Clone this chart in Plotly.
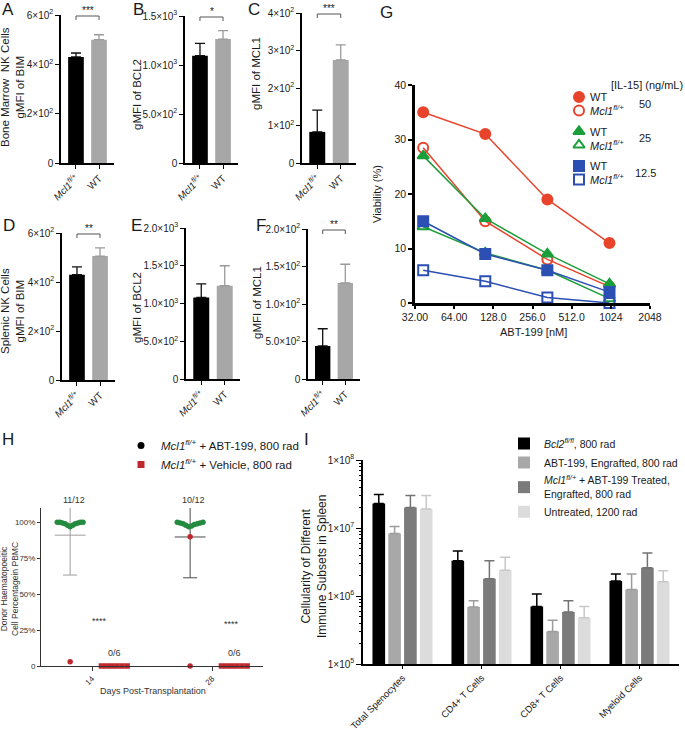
import math
import statistics
import plotly.graph_objects as go

W, H = 685, 730
FONT = "Liberation Sans, Arial, Helvetica, sans-serif"
INK = "#1a1a1a"

# ---------------------------------------------------------------- data
GENOTYPES = ["<i>Mcl1<sup>fl/+</sup></i>", "WT"]

A_BM_BIM = [430, 500]
A_BM_BIM_SEM = [16, 20]
B_BM_BCL2 = [1095, 1265]
B_BM_BCL2_SEM = [125, 85]
C_BM_MCL1 = [83, 275]
C_BM_MCL1_SEM = [58, 40]
D_SP_BIM = [430, 506]
D_SP_BIM_SEM = [32, 33]
E_SP_BCL2 = [1080, 1235]
E_SP_BCL2_SEM = [180, 265]
F_SP_MCL1 = [44, 128]
F_SP_MCL1_SEM = [23, 25]

TICKS_BIM = [0, 200, 400, 600]
TICKTEXT_BIM = ["0", "2×10<sup>2</sup>", "4×10<sup>2</sup>", "6×10<sup>2</sup>"]
TICKS_BCL2_BM = [0, 500, 1000, 1500]
TICKTEXT_BCL2_BM = ["0", "5.0×10<sup>2</sup>", "1.0×10<sup>3</sup>", "1.5×10<sup>3</sup>"]
TICKS_MCL1_BM = [0, 100, 200, 300, 400]
TICKTEXT_MCL1_BM = ["0", "1×10<sup>2</sup>", "2×10<sup>2</sup>", "3×10<sup>2</sup>", "4×10<sup>2</sup>"]
TICKS_BCL2_SP = [0, 500, 1000, 1500, 2000]
TICKTEXT_BCL2_SP = ["0", "5.0×10<sup>2</sup>", "1.0×10<sup>3</sup>", "1.5×10<sup>3</sup>", "2.0×10<sup>3</sup>"]
TICKS_MCL1_SP = [0, 50, 100, 150, 200]
TICKTEXT_MCL1_SP = ["0", "5.0×10<sup>2</sup>", "1.0×10<sup>2</sup>", "1.5×10<sup>2</sup>", "2.0×10<sup>2</sup>"]

G_DOSE_NM = [37, 111, 333, 1000]
G_WT_50 = [35, 31, 19, 11]
G_MCL1_50 = [28.5, 15, 8, 3]
G_WT_25 = [27, 15.5, 9, 3.5]
G_MCL1_25 = [14, 9.2, 6, 0.8]
G_WT_12 = [15, 9, 6, 2]
G_MCL1_12 = [6, 4, 1, 0]
G_IL15 = ["50", "25", "12.5"]
G_XTICKS = [32, 64, 128, 256, 512, 1024, 2048]
G_XTICKTEXT = ["32.00", "64.00", "128.0", "256.0", "512.0", "1024", "2048"]
G_YTICKS = [0, 10, 20, 30, 40]

H_DAYS = [14, 28]
H_ABT_ENGRAFTED_D14 = [100, 100, 99.5, 99, 98, 97, 98, 99, 99.5, 100, 100]
H_ABT_OTHER_D14 = [3]
H_ABT_ENGRAFTED_D28 = [100, 99.5, 99, 98, 97, 97.5, 98.5, 99, 99.5, 100]
H_ABT_OTHER_D28 = [90, 0]
H_VEHICLE_D14 = [0, 0, 0, 0, 0, 0]
H_VEHICLE_D28 = [0, 0, 0, 0, 0, 0]
H_ENGRAFT_LABELS = ["11/12", "10/12"]
H_VEHICLE_LABELS = ["0/6", "0/6"]
H_SIGNIF = ["****", "****"]
H_YTICKS = [0, 25, 50, 75, 100]
H_YTICKTEXT = ["0", "25%", "50%", "75%", "100%"]

I_CATEGORIES = ["Total Spenocytes", "CD4+ T Cells", "CD8+ T Cells", "Myeloid Cells"]
I_GROUPS = [
    "<i>Bcl2<sup>fl/fl</sup></i>, 800 rad",
    "ABT-199, Engrafted, 800 rad",
    "<i>Mcl1<sup>fl/+</sup></i> + ABT-199 Treated,<br>Engrafted, 800 rad",
    "Untreated, 1200 rad",
]
I_BCL2 = [2.3e7, 3.3e6, 7.0e5, 1.66e6]
I_BCL2_SEM = [8.0e6, 1.3e6, 3.7e5, 4.4e5]
I_ABT = [8.3e6, 6.9e5, 3.0e5, 1.25e6]
I_ABT_SEM = [2.2e6, 1.6e5, 1.4e5, 8.5e5]
I_MCL1_ABT = [2.0e7, 1.8e6, 5.8e5, 2.6e6]
I_MCL1_ABT_SEM = [1.0e7, 1.5e6, 2.7e5, 1.7e6]
I_UNTREATED = [1.9e7, 2.4e6, 4.8e5, 1.62e6]
I_UNTREATED_SEM = [1.1e7, 1.3e6, 2.2e5, 7.3e5]
I_YTICKS = [1e5, 1e6, 1e7, 1e8]
I_YTICKTEXT = ["1×10<sup>5</sup>", "1×10<sup>6</sup>", "1×10<sup>7</sup>", "1×10<sup>8</sup>"]

# ---------------------------------------------------------------- helpers
fig = go.Figure()
annotations, shapes = [], []
layout = {}


def xd(a, b):
    return [a / W, b / W]


def yd(top, bottom):
    return [1 - bottom / H, 1 - top / H]


def px_ann(x, y, text, size, angle=0, xanchor="center", yanchor="middle", color=INK):
    annotations.append(dict(xref="paper", yref="paper", x=x / W, y=1 - y / H, text=text,
                            textangle=angle, showarrow=False, xanchor=xanchor, yanchor=yanchor,
                            font=dict(size=size, family=FONT, color=color)))


def axis_style(**kw):
    base = dict(showline=True, linecolor="black", linewidth=1.5, ticks="outside", ticklen=4,
                tickwidth=1.2, tickcolor="black", showgrid=False, zeroline=False, automargin=False,
                tickfont=dict(size=10, family=FONT, color=INK), fixedrange=True)
    base.update(kw)
    return base


# ---------------------------------------------------------------- panels A-F
BLACK, GREY = "#000000", "#a7a7a7"
bar_panels = [
    dict(n=1, L="A", v=A_BM_BIM, e=A_BM_BIM_SEM, tv=TICKS_BIM, tt=TICKTEXT_BIM, ymax=600,
         xp=(61, 114), yp=(15, 163), title="Bone Marrow  NK Cells<br>gMFI of BIM", txy=(12, 87),
         lxy=(0, 9), stars="***"),
    dict(n=2, L="B", v=B_BM_BCL2, e=B_BM_BCL2_SEM, tv=TICKS_BCL2_BM, tt=TICKTEXT_BCL2_BM, ymax=1500,
         xp=(185, 238), yp=(16, 163), title="gMFI of BCL2", txy=(137, 95), lxy=(131, 9), stars="*"),
    dict(n=3, L="C", v=C_BM_MCL1, e=C_BM_MCL1_SEM, tv=TICKS_MCL1_BM, tt=TICKTEXT_MCL1_BM, ymax=400,
         xp=(302, 356), yp=(13, 163), title="gMFI of MCL1", txy=(256, 73), lxy=(246, 9), stars="***"),
    dict(n=4, L="D", v=D_SP_BIM, e=D_SP_BIM_SEM, tv=TICKS_BIM, tt=TICKTEXT_BIM, ymax=600,
         xp=(62, 115), yp=(233, 380), title="Splenic NK Cells<br>gMFI of BIM", txy=(12, 311),
         lxy=(1, 226), stars="**"),
    dict(n=5, L="E", v=E_SP_BCL2, e=E_SP_BCL2_SEM, tv=TICKS_BCL2_SP, tt=TICKTEXT_BCL2_SP, ymax=2000,
         xp=(186, 240), yp=(228, 379), title="gMFI of BCL2", txy=(137, 308), lxy=(129, 226), stars=None),
    dict(n=6, L="F", v=F_SP_MCL1, e=F_SP_MCL1_SEM, tv=TICKS_MCL1_SP, tt=TICKTEXT_MCL1_SP, ymax=200,
         xp=(308, 360), yp=(229, 379), title="gMFI of MCL1", txy=(257, 303), lxy=(254, 226), stars="**"),
]

for p in bar_panels:
    n = p["n"]
    xa, ya = f"x{n}", f"y{n}"
    for i, (col, ecol) in enumerate([(BLACK, "#111111"), (GREY, "#9a9a9a")]):
        fig.add_trace(go.Bar(
            x=[i], y=[p["v"][i]], width=0.68, offsetgroup="g", xaxis=xa, yaxis=ya,
            marker=dict(color=col, line=dict(width=0)), showlegend=False, hoverinfo="skip",
            error_y=dict(type="data", symmetric=False, array=[p["e"][i]], arrayminus=[0],
                         color=ecol, thickness=1.3, width=5)))
    layout[f"xaxis{n}"] = axis_style(domain=xd(*p["xp"]), range=[-0.65, 1.65], anchor=ya,
                                     tickvals=list(range(len(GENOTYPES))), ticktext=GENOTYPES,
                                     tickangle=-45)
    layout[f"yaxis{n}"] = axis_style(domain=yd(*p["yp"]), range=[0, p["ymax"]], anchor=xa,
                                     tickvals=p["tv"], ticktext=p["tt"])
    px_ann(p["txy"][0], p["txy"][1], p["title"], 11.5, angle=-90)
    px_ann(p["lxy"][0], p["lxy"][1], p["L"], 17, xanchor="left")
    if p["stars"]:
        span = p["yp"][1] - p["yp"][0]
        by = p["ymax"] * (span - 1) / span
        d = p["ymax"] * 4 / span
        lc = dict(color="#555555", width=1)
        shapes.append(dict(type="line", xref=xa, yref=ya, x0=0, x1=1, y0=by, y1=by, line=lc))
        shapes.append(dict(type="line", xref=xa, yref=ya, x0=0, x1=0, y0=by, y1=by - d, line=lc))
        shapes.append(dict(type="line", xref=xa, yref=ya, x0=1, x1=1, y0=by, y1=by - d, line=lc))
        annotations.append(dict(xref=xa, yref=ya, x=0.5, y=by, text=p["stars"], showarrow=False,
                                yanchor="bottom", yshift=-2, font=dict(size=10, family=FONT, color=INK)))

# ---------------------------------------------------------------- panel G
RED, GREEN, BLUE = "#e8442c", "#1a9e3a", "#2b4fb3"
g_series = [
    (G_WT_50, RED, "circle", "WT"),
    (G_MCL1_50, RED, "circle-open", "<i>Mcl1<sup>fl/+</sup></i>"),
    (G_WT_25, GREEN, "triangle-up", "WT"),
    (G_MCL1_25, GREEN, "triangle-up-open", "<i>Mcl1<sup>fl/+</sup></i>"),
    (G_WT_12, BLUE, "square", "WT"),
    (G_MCL1_12, BLUE, "square-open", "<i>Mcl1<sup>fl/+</sup></i>"),
]
for vals, col, sym, name in g_series:
    fig.add_trace(go.Scatter(
        x=G_DOSE_NM, y=vals, mode="lines+markers", xaxis="x7", yaxis="y7", cliponaxis=False,
        line=dict(color=col, width=1.5), showlegend=False, hoverinfo="skip",
        marker=dict(symbol=sym, size=10, color=col, line=dict(color=col, width=2))))
layout["xaxis7"] = axis_style(domain=xd(415, 650), type="log", anchor="y7",
                              range=[math.log10(G_XTICKS[0]), math.log10(G_XTICKS[-1])],
                              tickvals=G_XTICKS, ticktext=G_XTICKTEXT, linewidth=2.5, tickwidth=2,
                              ticklen=3, tickfont=dict(size=10.5, family=FONT, color=INK))
layout["yaxis7"] = axis_style(domain=yd(85, 303), range=[0, 40], anchor="x7", tickvals=G_YTICKS,
                              linewidth=2.5, tickwidth=2, ticklen=4,
                              tickfont=dict(size=10.5, family=FONT, color=INK))
px_ann(377, 194, "Viability (%)", 11, angle=-90)
px_ann(533, 332, "ABT-199 [nM]", 11)
px_ann(378, 12, "G", 17, xanchor="left")

# legend of G (manual, pixel overlay)
layout["xaxis10"] = dict(domain=[0, 1], range=[0, W], visible=False, fixedrange=True, anchor="y10",
                         automargin=False)
layout["yaxis10"] = dict(domain=[0, 1], range=[H, 0], visible=False, fixedrange=True, anchor="x10",
                         automargin=False)
for k, (vals, col, sym, name) in enumerate(g_series):
    grp, row = divmod(k, 2)
    ry = 97 + grp * 34.5 + row * 13.5
    fig.add_trace(go.Scatter(x=[579], y=[ry], mode="markers", xaxis="x10", yaxis="y10",
                             showlegend=False, hoverinfo="skip", cliponaxis=False,
                             marker=dict(symbol=sym, size=10, color=col, line=dict(color=col, width=2))))
    px_ann(588, ry, name, 11, xanchor="left")
    if row == 0:
        px_ann(645, ry + 6.75, G_IL15[grp], 11)
px_ann(647, 85, "[IL-15] (ng/mL)", 11)

# ---------------------------------------------------------------- panel H
HGREEN, HRED = "#238b3f", "#c0282d"
ABT_OFF, VEH_OFF = -2.55, 2.6
H_ERR_COLORS = ["#9e9e9e", "#4a4a4a"]
H_STAR_POS = [(0.9, 31), (2.3, 29)]
h_eng = [H_ABT_ENGRAFTED_D14, H_ABT_ENGRAFTED_D28]
h_oth = [H_ABT_OTHER_D14, H_ABT_OTHER_D28]
h_veh = [H_VEHICLE_D14, H_VEHICLE_D28]
for k, day in enumerate(H_DAYS):
    allv = h_eng[k] + h_oth[k]
    m, sd = statistics.mean(allv), statistics.stdev(allv)
    cx = day + ABT_OFF
    ecol = H_ERR_COLORS[k]
    fig.add_trace(go.Scatter(x=[cx], y=[m], mode="markers", xaxis="x8", yaxis="y8",
                             marker=dict(size=1, color="rgba(0,0,0,0)"), showlegend=False,
                             hoverinfo="skip",
                             error_y=dict(type="data", array=[sd], color=ecol, thickness=1, width=7)))
    fig.add_trace(go.Scatter(x=[cx - 1.8, cx + 1.8], y=[m, m], mode="lines", xaxis="x8", yaxis="y8",
                             line=dict(color=ecol, width=1), showlegend=False, hoverinfo="skip"))
    n = len(h_eng[k])
    xs = [cx - 1.5 + 3.0 * i / (n - 1) for i in range(n)]
    fig.add_trace(go.Scatter(x=xs, y=h_eng[k], mode="markers", xaxis="x8", yaxis="y8",
                             marker=dict(color=HGREEN, size=5.5), showlegend=False, hoverinfo="skip"))
    fig.add_trace(go.Scatter(x=[cx] * len(h_oth[k]), y=h_oth[k], mode="markers", xaxis="x8",
                             yaxis="y8", cliponaxis=False, marker=dict(color=HRED, size=5.5),
                             showlegend=False, hoverinfo="skip"))
    nv = len(h_veh[k])
    vx = [day + VEH_OFF - 1.5 + 3.0 * i / (nv - 1) for i in range(nv)]
    fig.add_trace(go.Scatter(x=vx, y=h_veh[k], mode="markers", xaxis="x8", yaxis="y8",
                             cliponaxis=False, marker=dict(symbol="square", color=HRED, size=5.5),
                             showlegend=False, hoverinfo="skip"))
    annotations.append(dict(xref="x8", yref="y8", x=cx + 0.4, y=110, text=H_ENGRAFT_LABELS[k],
                            showarrow=False, yanchor="middle", yshift=8,
                            font=dict(size=9, family=FONT, color="#333")))
    annotations.append(dict(xref="x8", yref="y8", x=day + VEH_OFF, y=0, text=H_VEHICLE_LABELS[k],
                            showarrow=False, yanchor="middle", yshift=13,
                            font=dict(size=9, family=FONT, color="#333")))
    annotations.append(dict(xref="x8", yref="y8", x=day + H_STAR_POS[k][0], y=H_STAR_POS[k][1],
                            text=H_SIGNIF[k], showarrow=False, yanchor="middle",
                            font=dict(size=9, family=FONT, color="#333")))

fig.add_trace(go.Scatter(x=[None], y=[None], mode="markers", xaxis="x8", yaxis="y8",
                         name="<i>Mcl1<sup>fl/+</sup></i> + ABT-199, 800 rad", legend="legend2",
                         marker=dict(color="black", size=7, symbol="circle")))
fig.add_trace(go.Scatter(x=[None], y=[None], mode="markers", xaxis="x8", yaxis="y8",
                         name="<i>Mcl1<sup>fl/+</sup></i> + Vehicle, 800 rad", legend="legend2",
                         marker=dict(color=HRED, size=7, symbol="square")))

hax = dict(linecolor="#333", linewidth=1, tickcolor="#333", tickwidth=1,
           tickfont=dict(size=8, family=FONT, color="#333"))
layout["xaxis8"] = axis_style(domain=xd(41, 263), range=[8.05, 33.95], anchor="y8", tickvals=H_DAYS,
                              ticktext=[str(d) for d in H_DAYS], tickangle=-45, ticklen=4, **hax)
layout["yaxis8"] = axis_style(domain=yd(508, 666), range=[0, 110], anchor="x8", tickvals=H_YTICKS,
                              ticktext=H_YTICKTEXT, ticklen=3, **hax)
px_ann(9, 589, "Donor Haematopoeitic<br>Cell Percentagein PBMC", 8.5, angle=-90, color="#333")
px_ann(153, 691, "Days Post-Transplantation", 9, color="#333")
px_ann(0, 439, "H", 17, xanchor="left")

# ---------------------------------------------------------------- panel I
i_series = [
    (I_BCL2, I_BCL2_SEM, "#000000", "#000000"),
    (I_ABT, I_ABT_SEM, "#a8a8a8", "#9c9c9c"),
    (I_MCL1_ABT, I_MCL1_ABT_SEM, "#7b7b7b", "#737373"),
    (I_UNTREATED, I_UNTREATED_SEM, "#dcdcdc", "#c8c8c8"),
]
for name, (vals, sem, col, ecol) in zip(I_GROUPS, i_series):
    fig.add_trace(go.Bar(
        x=I_CATEGORIES, y=vals, name=name, legend="legend3", xaxis="x9", yaxis="y9",
        marker=dict(color=col, line=dict(width=0)), hoverinfo="skip",
        error_y=dict(type="data", symmetric=False, array=sem, arrayminus=[0 for _ in sem],
                     color=ecol, thickness=1.5, width=5)))
minor_vals = [k * 10 ** e for e in (5, 6, 7) for k in range(2, 10)]
layout["xaxis9"] = axis_style(domain=xd(363, 679), type="category", range=[-0.5, 3.5], anchor="y9",
                              tickangle=-45, ticklen=3,
                              tickfont=dict(size=9.5, family=FONT, color=INK))
layout["yaxis9"] = axis_style(domain=yd(460, 664), type="log", range=[5, 8], anchor="x9",
                              tickvals=I_YTICKS, ticktext=I_YTICKTEXT, ticklen=5,
                              minor=dict(ticks="outside", ticklen=2.5, tickvals=minor_vals,
                                         tickcolor="black", tickwidth=1))
px_ann(314, 567, "Cellularity of Different<br>Immune Subsets in Spleen", 12, angle=-90)
px_ann(302, 439, "I", 17, xanchor="left")

# ---------------------------------------------------------------- layout
layout.update(
    width=W, height=H, margin=dict(l=0, r=0, t=0, b=0, autoexpand=False), autosize=False,
    paper_bgcolor="white", plot_bgcolor="rgba(0,0,0,0)",
    font=dict(family=FONT, color=INK, size=11),
    barmode="group", bargap=0.2, bargroupgap=0.2,
    annotations=annotations, shapes=shapes, showlegend=True,
    legend2=dict(x=121 / W, y=1 - 431 / H, xanchor="left", yanchor="top", bgcolor="rgba(0,0,0,0)",
                 font=dict(size=11.5, family=FONT, color=INK), itemwidth=30, tracegroupgap=0),
    legend3=dict(x=504 / W, y=1 - 429 / H, xanchor="left", yanchor="top", bgcolor="rgba(0,0,0,0)",
                 font=dict(size=10.5, family=FONT, color=INK), itemwidth=30, tracegroupgap=0),
)
fig.update_layout(**layout)
fig.write_html("out.html", config={"displayModeBar": False},
               post_script="document.body.style.margin='0';")
